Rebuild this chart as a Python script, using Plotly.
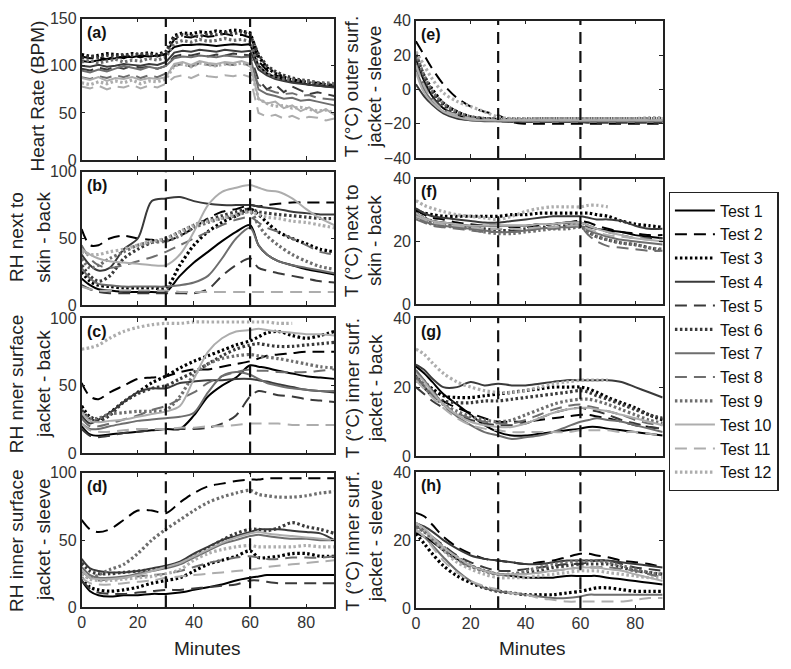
import plotly.graph_objects as go

# ---------------- data ----------------
T = [0, 3, 6, 10, 15, 20, 25, 30, 35, 40, 45, 50, 55, 60, 63, 66, 70, 75, 80, 85, 90]
T_HR = list(range(0, 91, 3))
TESTS = [f"Test {i}" for i in range(1, 13)]
XTICKS = [0, 20, 40, 60, 80]
PHASE_MARKS = [30, 60]

HR = [
    [105,104,106,107,108,110,109,111,110,111,112, 120,122,122,123,122,121,122,123,122,123, 100,92,88,85,83,82,80,79,78,78],
    [110,108,109,107,110,108,111,109,112,110,113, 128,131,130,133,131,132,134,132,133,130, 105,95,90,87,86,84,83,82,80,80],
    [112,110,111,113,112,111,113,112,114,112,115, 132,135,134,136,135,137,136,138,137,135, 110,98,92,88,85,84,82,81,80,79],
    [100,99,101,99,100,102,101,100,102,101,104, 114,116,115,117,116,115,117,116,115,116, 96,90,86,84,82,81,80,79,78,77],
    [97,95,98,96,99,97,100,98,99,97,100, 110,112,111,113,110,112,111,113,112,111, 85,75,80,72,78,74,70,72,70,68],
    [108,110,109,111,110,112,111,113,112,111,114, 130,133,132,131,134,133,135,134,136,133, 112,100,94,90,87,85,84,82,81,80],
    [95,93,96,94,97,100,98,96,99,97,100, 108,110,109,111,110,109,111,110,109,110, 75,70,68,65,66,63,64,62,60,58],
    [88,86,89,87,90,88,91,87,90,88,92, 100,102,99,103,101,100,102,101,103,100, 80,75,72,70,71,68,69,66,65,64],
    [104,106,103,105,107,104,106,105,108,106,109, 124,127,125,128,126,127,129,127,128,126, 100,92,88,86,85,84,83,82,82,81],
    [87,85,88,84,87,86,88,85,87,86,88, 102,104,101,105,103,102,104,103,105,102, 65,60,62,55,58,52,56,50,54,48],
    [78,76,79,75,78,77,80,76,79,77,81, 88,90,87,91,89,88,90,89,91,88, 50,46,48,44,47,43,46,45,42,44],
    [82,80,83,81,84,82,85,81,84,83,86, 100,102,99,103,101,100,102,101,103,100, 65,60,57,58,55,56,54,52,53,50],
]

RH_SKIN_BACK = [
    [20,15,12,11,10,10,10,10,22,32,40,48,55,60,45,38,33,30,27,25,23],
    [57,45,45,50,52,50,49,48,52,58,65,70,72,75,74,75,76,77,77,77,77],
    [25,18,15,14,13,13,13,13,30,45,55,62,67,72,68,62,55,50,46,42,40],
    [38,30,26,28,42,50,78,80,81,78,76,75,75,75,74,73,72,70,69,68,68],
    [15,12,10,9,9,9,9,9,9,9,12,22,30,35,28,26,24,22,20,18,17],
    [30,22,18,22,35,42,47,50,55,60,64,67,70,72,70,69,68,67,66,65,65],
    [28,20,16,15,14,14,14,14,15,17,22,35,50,58,45,38,33,30,28,26,24],
    [45,35,30,28,30,33,36,40,45,50,55,60,64,66,62,58,55,50,45,40,38],
    [35,28,30,35,40,45,47,48,52,58,62,65,67,70,60,52,45,38,33,29,27],
    [42,38,35,33,32,31,30,30,38,55,75,85,88,90,88,86,85,80,72,65,60],
    [14,12,11,11,11,11,11,11,10,10,10,10,10,10,10,10,10,10,10,10,10],
    [40,38,38,40,42,45,48,50,55,60,63,65,68,70,68,66,65,63,62,60,58],
]

RH_JACKET_BACK = [
    [20,14,13,14,15,16,17,18,18,28,42,50,56,65,64,63,61,59,57,56,55],
    [52,42,40,45,50,55,56,57,60,62,62,64,66,68,70,72,73,74,75,75,75],
    [35,27,25,30,38,45,52,57,63,68,72,76,80,83,86,89,90,87,85,87,90],
    [28,22,25,30,38,45,48,48,52,53,54,54,55,55,54,53,51,49,47,46,45],
    [18,13,12,13,15,16,17,18,18,18,19,22,28,42,46,45,43,42,40,39,38],
    [32,25,24,28,38,44,48,50,55,60,66,72,77,80,81,80,79,79,80,81,82],
    [22,18,18,20,22,24,25,26,27,30,45,57,60,58,55,52,50,48,47,46,46],
    [26,20,20,22,25,28,32,35,40,45,52,57,60,62,61,61,60,60,60,61,62],
    [30,26,26,29,30,31,31,32,42,58,66,70,72,73,72,71,70,68,66,64,63],
    [30,24,23,24,25,27,29,31,35,55,75,85,90,91,92,91,90,89,88,88,87],
    [22,17,16,16,17,18,18,18,19,19,20,20,21,22,22,22,22,21,21,21,21],
    [77,78,80,85,90,93,95,96,96,97,97,97,97,97,97,97,96,96,None,None,None],
]

RH_JACKET_SLEEVE = [
    [20,12,9,8,9,9,10,10,11,13,15,17,20,22,23,24,24,24,24,24,24],
    [65,58,56,58,65,72,72,70,78,85,90,92,94,95,95,96,96,96,96,96,96],
    [22,15,13,12,13,15,18,20,22,27,32,35,38,42,37,37,38,40,40,38,38],
    [36,29,27,26,26,27,29,31,34,40,45,50,53,56,58,58,58,57,56,55,50],
    [20,14,11,10,10,11,12,13,13,14,15,16,17,20,20,19,18,18,18,18,18],
    [33,27,25,25,26,27,28,30,33,38,44,50,55,58,58,57,59,63,60,58,55],
    [30,24,22,22,23,25,27,29,32,37,42,47,50,53,54,53,52,51,51,50,50],
    [27,22,20,21,22,23,24,25,27,30,33,35,37,38,37,36,36,37,37,37,38],
    [25,22,24,28,32,40,50,58,65,72,78,82,85,87,84,83,82,82,83,85,86],
    [28,22,21,21,22,24,27,30,33,38,43,48,52,55,56,55,54,53,52,51,50],
    [22,18,17,17,18,19,20,22,23,24,25,26,27,28,29,30,31,32,33,34,35],
    [25,21,20,20,21,22,23,25,28,35,40,43,45,46,45,45,45,45,46,45,45],
]

T_OUTER_SLEEVE = [
    [18,5,-4,-11,-15,-17,-17.5,-18,-18,-18.5,-18.5,-18.5,-18.5,-18.5,-18.5,-18.5,-18.5,-18.5,-18.5,-18.5,-18.5],
    [28,20,12,3,-5,-10,-13,-15,-19,-20,-20,-20,-20,-20,-20,-20,-20,-20,-20,-20,-20],
    [20,8,0,-8,-13,-16,-17,-17.5,-17.5,-17.5,-17,-17,-17,-17,-17,-17,-17,-17,-17,-17,-17],
    [3,-4,-9,-14,-17,-18,-18.5,-18.5,-18.5,-18.5,-18.5,-18.5,-18.5,-18.5,-18.5,-18.5,-18.5,-18.5,-18.5,-18.5,-18.5],
    [15,3,-5,-11,-15,-17,-18,-18.5,-19,-19,-19,-19,-19,-19,-19.5,-19.5,-19.5,-19.5,-19.5,-19.5,-19.5],
    [20,7,-2,-9,-14,-16,-17,-17,-17.5,-17.5,-17.5,-17.5,-17.5,-17.5,-17.5,-17.5,-17.5,-17.5,-17.5,-17.5,-17.5],
    [12,0,-7,-13,-16,-18,-18,-18.5,-18.5,-18.5,-18.5,-18.5,-18.5,-18.5,-18.5,-18.5,-18.5,-18.5,-18.5,-18.5,-18.5],
    [15,2,-6,-12,-15,-17,-18,-18,-18,-18,-18,-18,-18,-18,-18,-18,-18,-18,-18,-18,-18],
    [21,8,-1,-8,-13,-16,-17,-17,-17,-17,-17,-17,-17,-17,-17,-17,-17,-17,-17,-17,-17],
    [10,-2,-8,-13,-16,-17.5,-18,-18,-18,-18,-18,-18,-18,-18,-18,-18,-18,-18,-18,-18,-18],
    [14,2,-6,-12,-15,-17,-17.5,-18,-18,-18,-18,-18,-18,-18,-18,-18,-18,-18,-18,-18,-18],
    [22,14,6,-2,-7,-10,-13,-16,-17,-17,-17,-17,-17,-17,-17,-17,-17,-17,-17,-16.5,-16.5],
]

T_SKIN_BACK = [
    [29,27.5,26.5,26,25.5,25,25,25,25,25,25.5,25.5,26,26,25,24,23.5,23,22,21.5,21],
    [30,28.5,27.5,27,26,25.5,25,25,24.5,24.5,25,25.5,26,26.5,26,25,24,23,22.5,22,22],
    [30,29,28.5,28,28,28,28,28,28.5,28.5,29,29,29,29,29,28.5,28,26.5,25.5,25,24.5],
    [30.5,29,28,27.5,27,26.5,26,26,26.5,27,27.5,28,28,28,27.5,27,27,26.5,25,24,24],
    [28,27,26,25,24.5,24,24,24,23.5,23.5,24,24.5,25,25,24.5,24,23,22,21,21,21],
    [29,27.5,26.5,25.5,25,24.5,24,23.5,23.5,24,24.5,24.5,25,25,23,21.5,20.5,19.5,19,18,17],
    [28,26.5,25.5,25,24.5,24,23.5,23,23,23.5,24,24.5,24.5,25,23.5,22.5,21.5,20.5,20,19.5,19],
    [27,26,25,24.5,24,23.5,23,23,23,23.5,24,24,24.5,24.5,22,20,18.5,18,17.5,17,17],
    [28,26.5,25.5,25,24.5,24,23,22.5,22.5,23,23.5,24,24,24.5,23,21.5,20.5,19.5,19,18,17.5],
    [29,27.5,26.5,26,25.5,25,25,25,25,25,25.5,25.5,26,26,25,24,23,22,21,20.5,20],
    [28,27,26,25.5,25,24.5,24,24,24,24,24.5,24.5,25,25,24,23,22,21.5,21,20.5,20],
    [33,31.5,30.5,29.5,28.5,28,27.5,27,28,29.5,30.5,31,31,31,31.5,31.5,31,None,None,None,None],
]

T_JACKET_BACK = [
    [26,24,21.5,18,15,12,9,7,6,6,6.5,7,7.5,8,8.5,8.5,8,7.5,7,6.5,6],
    [24,22,19,16,14,12.5,11,10,10,10,10.5,11,11.5,12,12,11.5,11,10,9,8.5,8],
    [24,21.5,19.5,17.5,17,17,17.5,18,18.5,19,19.5,20,20,20,19.5,18.5,17,15.5,14,12,10.5],
    [26.5,25,22.5,20,20,21.5,20.5,21,20.5,20.5,21,21.5,22,22,22,22,22,21.5,20,18.5,17],
    [20,18,16,14,12,10.5,9.5,9,9,9.5,11,12.5,13.5,14,13.5,13,12,10.5,9.5,8.5,8],
    [23,20,17.5,16,15.5,15.5,16,16,16.5,17,17.5,18,18.5,19,18.5,17.5,16.5,15,13.5,12,11],
    [25,22,19,15,11.5,9,7,6,5,5.5,6,7,8.5,10,10.5,11,10.5,10,9,8,7],
    [23,20.5,18,15,12.5,11,10,9.5,9.5,10.5,12,13.5,14.5,15,14.5,14,13,12,10.5,9.5,9],
    [22,20,17.5,15,13,11.5,10.5,10,10.5,12,13.5,15,16,16.5,16.5,16,15,13.5,12,10.5,9.5],
    [24,21.5,18.5,15,12,10,9,8.5,8.5,9.5,11,12.5,13.5,14,14,13.5,13,12,11,10,9],
    [22,19.5,17,14,11,9,8,7.5,7,7,7,7,7,7.5,7.5,7.5,7.5,7,7,6.5,6],
    [31,29.5,27,24,21.5,20,19,18.5,18.5,19,20,21,21.5,22,22,22,22,None,None,None,None],
]

T_JACKET_SLEEVE = [
    [22,21,19.5,17,14.5,12.5,11,10,9.5,9,9,9,9.5,9.5,9.5,9.5,9,8.5,8,7.5,7],
    [28,27,24.5,21,18,16,14.5,14,13.5,13,13.5,14,15,16,16,15.5,15,14,13.5,13,12],
    [22,19,16,12.5,9.5,7.5,6,5,4.5,4,4,4,4.5,5,5.5,6,6,5.5,5,5,5],
    [25,24,22.5,20,17.5,15.5,14.5,14,13.5,13,13,13.5,14,14,14,14,14,13.5,13,12.5,12],
    [24,23,21,18.5,15.5,13.5,12,11,11,11.5,12,12.5,13,13,13.5,14,14,13,12,11.5,11],
    [24,22.5,20.5,18,15,12.5,11,10,10,10.5,11,12,12.5,13,13,13,13,12,11,10.5,10],
    [23,21,18.5,15,11,8,6,5,4.5,4,3.5,3,3,3.5,4,4,4,4,4,4,4],
    [24,22.5,20,17,14,12,11,10,10,10,10.5,11,11.5,12,12,12,12,11.5,11,10,9],
    [24,22.5,20.5,17.5,14.5,12.5,11,10,10,11,12,13,13.5,14,14,14,13.5,12.5,11.5,10.5,10],
    [25,23.5,21,18,15,12.5,11,10,10,10,10.5,11,11.5,12,12,12,11.5,11,10,9,8],
    [23,21,18,14,10.5,8,6.5,5.5,4.5,4,3,2.5,2,2,2,2,2,2,2.5,3,3],
    [25,23,20.5,17,13.5,11.5,10,9,9,9,9.5,10,10.5,11,11,11,10.5,10,9.5,9,9],
]

# ---------------- styling ----------------
W, H = 791, 669
FONT = "Liberation Sans, Arial, Helvetica, sans-serif"
COLORS = ["#000000"] * 3 + ["#3a3a3a"] * 3 + ["#6e6e6e"] * 3 + ["#adadad"] * 3
DASHES = ["solid", "12px,7px", "2.5px,2.5px"] * 4
WIDTHS = [2.0, 2.0, 3.2] * 4

# panel boxes in pixels: (left, right, top, bottom)
PANELS = {
    "a": (78, 332, 11, 156), "b": (78, 332, 168, 305),
    "c": (78, 332, 318, 457), "d": (78, 332, 477, 615),
    "e": (414, 662, 13, 154), "f": (414, 662, 175, 304),
    "g": (414, 662, 318, 460), "h": (414, 662, 476, 616),
}
ORDER = ["a", "b", "c", "d", "e", "f", "g", "h"]
SERIES = {
    "a": (T_HR, HR), "b": (T, RH_SKIN_BACK), "c": (T, RH_JACKET_BACK),
    "d": (T, RH_JACKET_SLEEVE), "e": (T, T_OUTER_SLEEVE), "f": (T, T_SKIN_BACK),
    "g": (T, T_JACKET_BACK), "h": (T, T_JACKET_SLEEVE),
}
YRANGE = {"a": [0, 150], "b": [0, 100], "c": [0, 100], "d": [0, 100],
          "e": [-40, 40], "f": [0, 40], "g": [0, 40], "h": [0, 40]}
YTICKS = {"a": [0, 50, 100, 150], "b": [0, 50, 100], "c": [0, 50, 100], "d": [0, 50, 100],
          "e": [-40, -20, 0, 20, 40], "f": [0, 20, 40], "g": [0, 20, 40], "h": [0, 20, 40]}

fig = go.Figure()
layout = dict(
    width=W, height=H, margin=dict(l=0, r=0, t=0, b=0),
    paper_bgcolor="white", plot_bgcolor="white",
    font=dict(family=FONT, size=16, color="#222"),
    showlegend=True,
    legend=dict(x=668 / W, y=1 - 189 / H, xanchor="left", yanchor="top",
                bordercolor="#222", borderwidth=1.3, bgcolor="white",
                font=dict(size=16, color="#111"), tracegroupgap=0, itemwidth=40),
)
shapes, annotations = [], []

for k, p in enumerate(ORDER, start=1):
    l, r, t, b = PANELS[p]
    xa = "xaxis" if k == 1 else f"xaxis{k}"
    ya = "yaxis" if k == 1 else f"yaxis{k}"
    xr = "x" if k == 1 else f"x{k}"
    yr = "y" if k == 1 else f"y{k}"
    bottom = p in ("d", "h")
    layout[xa] = dict(domain=[l / W, r / W], anchor=yr, range=[0, 90],
                      tickvals=XTICKS, showticklabels=bottom, ticks="inside", ticklen=4,
                      tickcolor="#222", showline=True, linecolor="#222", linewidth=1.5,
                      mirror="ticks", showgrid=False, zeroline=False,
                      tickfont=dict(size=16, color="#333"))
    layout[ya] = dict(domain=[1 - b / H, 1 - t / H], anchor=xr, range=YRANGE[p],
                      tickvals=YTICKS[p], ticks="inside", ticklen=4, tickcolor="#222",
                      showline=True, linecolor="#222", linewidth=1.5, mirror="ticks",
                      showgrid=False, zeroline=False, tickfont=dict(size=16, color="#333"))
    tx, data = SERIES[p]
    for i, ys in enumerate(data):
        fig.add_trace(go.Scatter(
            x=tx, y=ys, mode="lines", name=TESTS[i], xaxis=xr, yaxis=yr,
            showlegend=(p == "a"), legendgroup=TESTS[i],
            line=dict(color=COLORS[i], dash=DASHES[i], width=WIDTHS[i],
                      shape="linear" if p == "a" else "spline", smoothing=0.9),
            connectgaps=False))
    for xm in PHASE_MARKS:
        shapes.append(dict(type="line", xref=xr, yref=f"{yr} domain", x0=xm, x1=xm,
                           y0=0, y1=1, line=dict(color="#111", width=2.2, dash="12px,7px")))
    annotations.append(dict(text=f"<b>({p})</b>", xref="paper", yref="paper",
                            x=(l + 3) / W, y=1 - (t + 3) / H, xanchor="left", yanchor="top",
                            showarrow=False, font=dict(size=16, color="#111")))

# y-axis titles (one annotation per text line)
TITLES = [
    ("Heart Rate (BPM)", 34, 90),
    ("RH next to", 12, 235), ("skin - back", 39, 235),
    ("RH nner surface", 12, 386), ("jacket - back", 39, 386),
    ("RH inner surface", 12, 546), ("jacket - sleeve", 39, 546),
    ("T (°C) outer surf.", 350, 81), ("jacket - sleeve", 373, 81),
    ("T (°C) next to", 350, 239), ("skin - back", 373, 239),
    ("T (°C) inner surf.", 350, 390), ("jacket - back", 373, 390),
    ("T (°C) inner surf.", 350, 547), ("jacket - sleeve", 373, 547),
]
for txt, cx, cy in TITLES:
    annotations.append(dict(text=txt, xref="paper", yref="paper", x=cx / W, y=1 - cy / H,
                            xanchor="center", yanchor="middle", textangle=-90,
                            showarrow=False, font=dict(size=19, color="#222")))
for cx in (205, 531):
    annotations.append(dict(text="Minutes", xref="paper", yref="paper", x=cx / W,
                            y=1 - 657 / H, xanchor="center", yanchor="middle",
                            showarrow=False, font=dict(size=19, color="#222")))

layout["shapes"] = shapes
layout["annotations"] = annotations
fig.update_layout(**layout)

fig.write_html("out.html", include_plotlyjs=True, full_html=True,
               config={"displayModeBar": False},
               post_script="document.body.style.margin='0';document.body.style.overflow='hidden';")
